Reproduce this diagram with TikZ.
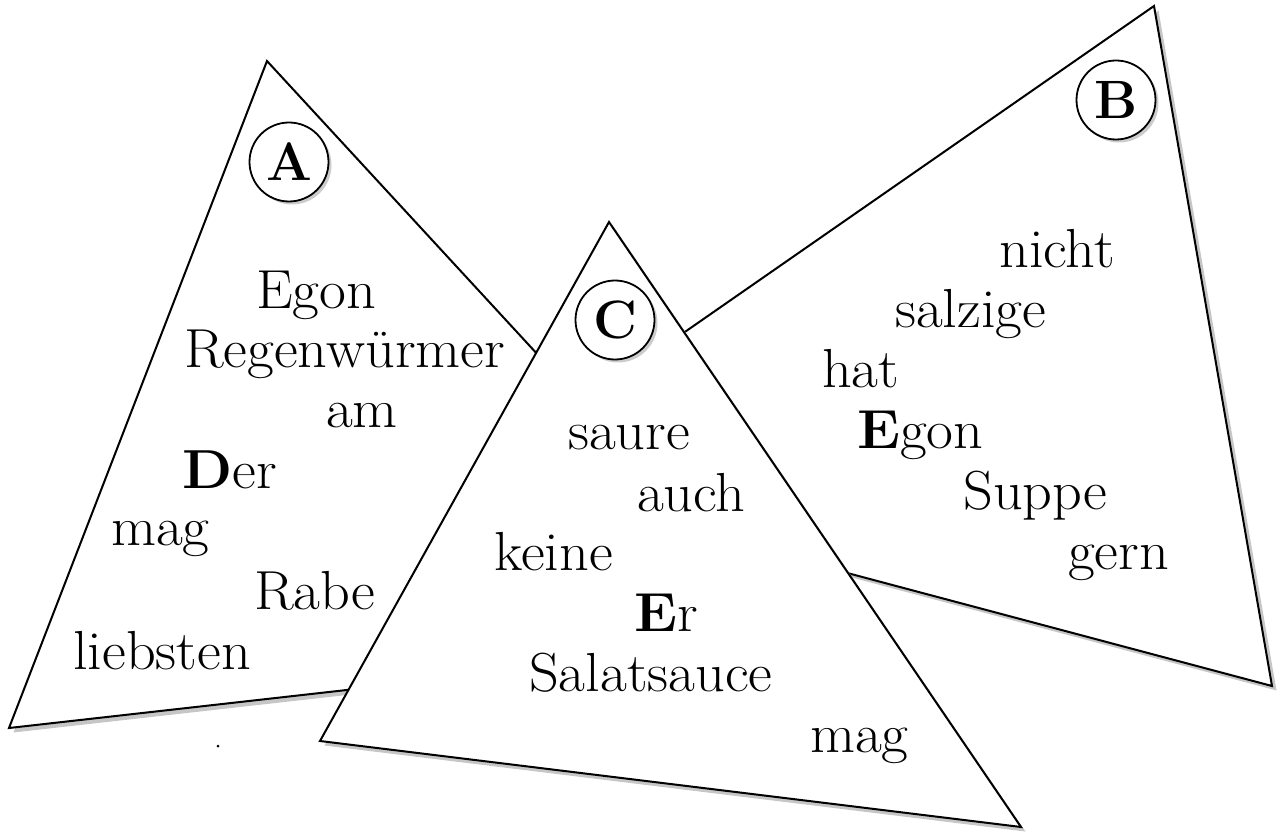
\documentclass[tikz,border=0pt]{standalone}
\usetikzlibrary{shadows}
\newcommand\wrd[1]{\scalebox{1.06}[1]{#1}}
\begin{document}
\begin{tikzpicture}[x=1pt,y=-1pt,
  card/.style={draw=black, line width=2pt, fill=white, line join=miter,
    drop shadow={shadow xshift=4.5pt, shadow yshift=-4.5pt, fill=gray!45, opacity=1}},
  word/.style={anchor=base west, inner sep=0pt, font=\fontsize{55}{60}\selectfont},
  badge/.style={circle, draw=black, line width=1.8pt, minimum size=79pt, inner sep=0pt,
    fill=white, font=\fontsize{54}{60}\selectfont\bfseries,
    drop shadow={shadow xshift=3pt, shadow yshift=-3pt, fill=gray!40, opacity=1}}]
\useasboundingbox (0,0) rectangle (1283,834);
% vertices
\coordinate (a1) at (267,61);  \coordinate (a2) at (9,728);   \coordinate (a3) at (800,639);
\coordinate (b1) at (1154,6);  \coordinate (b2) at (1272,686); \coordinate (b3) at (479,475);
\coordinate (c1) at (609,222); \coordinate (c2) at (320,741); \coordinate (c3) at (1021,827);
% card B
\path[card] (b1) -- (b2) -- (b3) -- cycle;
\node[badge] (cB) at (1116,100) {B};
\node[word] (b-nicht) at (999,268) {\wrd{nicht}};
\node[word] (b-salzige) at (895,328) {\wrd{salzige}};
\node[word] (b-hat) at (822,388) {\wrd{hat}};
\node[word] (b-egon) at (857,448) {\wrd{\textbf{E}gon}};
\node[word] (b-suppe) at (963,509) {\wrd{Suppe}};
\node[word] (b-gern) at (1068,569) {\wrd{gern}};
% card A
\path[card] (a1) -- (a2) -- (a3) -- cycle;
\node[badge] (cA) at (289,162) {A};
\node[word] (a-egon) at (256,309) {\wrd{Egon}};
\node[word] (a-regen) at (184,368) {\wrd{Regenwürmer}};
\node[word] (a-am) at (326,428) {\wrd{am}};
\node[word] (a-der) at (182,488) {\wrd{\textbf{D}er}};
\node[word] (a-mag) at (111,545) {\wrd{mag}};
\node[word] (a-rabe) at (254,609) {\wrd{Rabe}};
\node[word] (a-liebsten) at (73,669) {\wrd{liebsten}};
% card C
\path[card] (c1) -- (c2) -- (c3) -- cycle;
\node[badge] (cC) at (615,320) {C};
\node[word] (c-saure) at (568,449) {\wrd{saure}};
\node[word] (c-auch) at (637,511) {\wrd{auch}};
\node[word] (c-keine) at (494,570) {\wrd{keine}};
\node[word] (c-er) at (634,631) {\wrd{\textbf{E}r}};
\node[word] (c-salat) at (529,691) {\wrd{Salatsauce}};
\node[word] (c-mag) at (810,752) {\wrd{mag}};
% speck
\fill (218,746) circle (1.5);
\end{tikzpicture}
\end{document}
